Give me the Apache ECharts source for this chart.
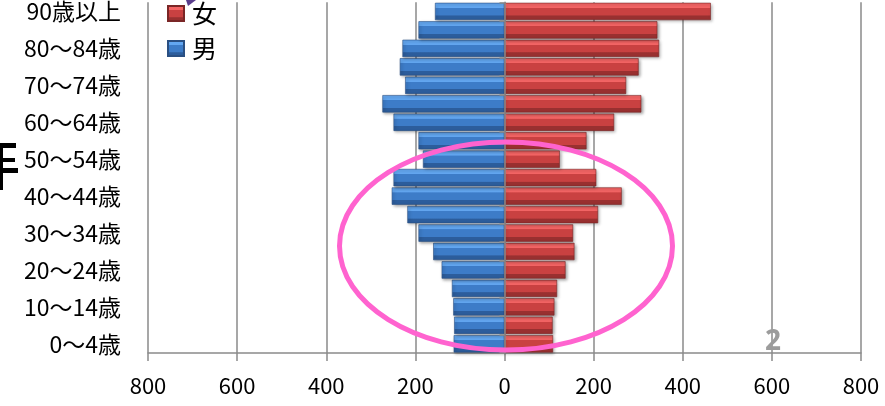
<!DOCTYPE html>
<html>
<head>
<meta charset="utf-8">
<script src="https://cdn.jsdelivr.net/npm/echarts@6/dist/echarts.min.js"></script>
<style>
html,body{margin:0;padding:0;background:#fff;}
#main{width:885px;height:406px;}
</style>
</head>
<body>
<div id="main"></div>
<script>
// Age groups, bottom to top
var ages = ['0〜4歳','5〜9歳','10〜14歳','15〜19歳','20〜24歳','25〜29歳','30〜34歳','35〜39歳','40〜44歳','45〜49歳','50〜54歳','55〜59歳','60〜64歳','65〜69歳','70〜74歳','75〜79歳','80〜84歳','85〜89歳','90歳以上'];
var male = [114,113,115,118,141,160,193,218,253,249,183,193,249,274,223,235,229,193,156];
var female = [109,108,112,118,137,157,154,210,263,206,124,184,246,307,273,301,347,343,463];
var xTicks = [-800,-600,-400,-200,0,200,400,600,800];

var FONT = "'Noto Sans CJK JP', 'Noto Sans', sans-serif";

function grad(c1, c2, c3) {
  return new echarts.graphic.LinearGradient(0, 0, 0, 1, [
    {offset: 0, color: c1}, {offset: 0.28, color: c1},
    {offset: 0.30, color: c2}, {offset: 0.72, color: c2},
    {offset: 0.74, color: c3}, {offset: 1, color: c3}
  ]);
}

var chart = echarts.init(document.getElementById('main'));
chart.setOption({
  animation: false,
  backgroundColor: '#fff',
  grid: {left: 148, right: 24, top: 2, bottom: 53},
  legend: {
    orient: 'vertical',
    left: 167, top: 1, padding: 0,
    data: ['女', '男'],
    icon: 'rect',
    itemWidth: 16, itemHeight: 15,
    itemGap: 10,
    textStyle: {fontSize: 25, color: '#000', fontFamily: FONT, padding: [0,0,0,3]}
  },
  xAxis: {
    type: 'value',
    min: xTicks[0], max: xTicks[xTicks.length - 1], interval: 200,
    axisLine: {show: true, onZero: false, lineStyle: {color: '#8a8a8a', width: 1.5}},
    axisTick: {show: true, length: 8, lineStyle: {color: '#8a8a8a', width: 1.5}},
    splitLine: {show: true, lineStyle: {color: '#8a8a8a', width: 1.5}},
    axisLabel: {
      fontSize: 22, color: '#000', fontFamily: FONT, margin: 22,
      formatter: function (v) { return Math.abs(v); }
    }
  },
  yAxis: [
    {
      type: 'category', data: ages, position: 'left',
      axisLine: {show: false, onZero: false}, axisTick: {show: false},
      axisLabel: {interval: 1, fontSize: 23, color: '#000', fontFamily: FONT, margin: 27}
    },
    {
      type: 'category', data: ages, position: 'right', z: 10,
      axisLine: {show: true, onZero: true, lineStyle: {color: '#8a8a8a', width: 1.5}},
      axisTick: {show: true, inside: true, length: 5, lineStyle: {color: '#8a8a8a', width: 1.5}},
      axisLabel: {show: false}
    }
  ],
  series: [
    {
      name: '男', type: 'bar', stack: 'p', barCategoryGap: '6%',
      data: male.map(function (v) { return -v; }),
      itemStyle: {
        color: grad('#63a7f1', '#3d7cc8', '#2c5d9c'),
        borderColor: '#2a4f82', borderWidth: 0.6,
        shadowBlur: 3, shadowOffsetX: 1.5, shadowOffsetY: 1.5, shadowColor: 'rgba(0,0,0,0.35)'
      }
    },
    {
      name: '女', type: 'bar', stack: 'p', barCategoryGap: '6%',
      data: female,
      itemStyle: {
        color: grad('#f46565', '#c94141', '#993030'),
        borderColor: '#7a2626', borderWidth: 0.6,
        shadowBlur: 3, shadowOffsetX: 1.5, shadowOffsetY: 1.5, shadowColor: 'rgba(0,0,0,0.35)'
      }
    }
  ],
  graphic: [
    {
      type: 'ellipse', z: 100,
      shape: {cx: 506, cy: 246, rx: 166.5, ry: 104},
      style: {fill: 'none', stroke: '#ff63cf', lineWidth: 5}
    },
    {type: 'text', left: 765, top: 328, z: 100,
      style: {text: '2', fill: '#9c9c9c', font: "bold 28px 'Noto Sans', sans-serif"}},
    {type: 'polygon', z: 100, shape: {points: [[186,0],[196,0],[188,6]]}, style: {fill: '#5a3d8c'}},
    {type: 'rect', z: 100, shape: {x: 0, y: 143, width: 16, height: 5}, style: {fill: '#000'}},
    {type: 'rect', z: 100, shape: {x: 0, y: 158, width: 15, height: 4}, style: {fill: '#000'}},
    {type: 'rect', z: 100, shape: {x: 0, y: 168, width: 18, height: 5}, style: {fill: '#000'}},
    {type: 'rect', z: 100, shape: {x: 0, y: 143, width: 3, height: 47}, style: {fill: '#000'}}
  ]
});
</script>
</body>
</html>
